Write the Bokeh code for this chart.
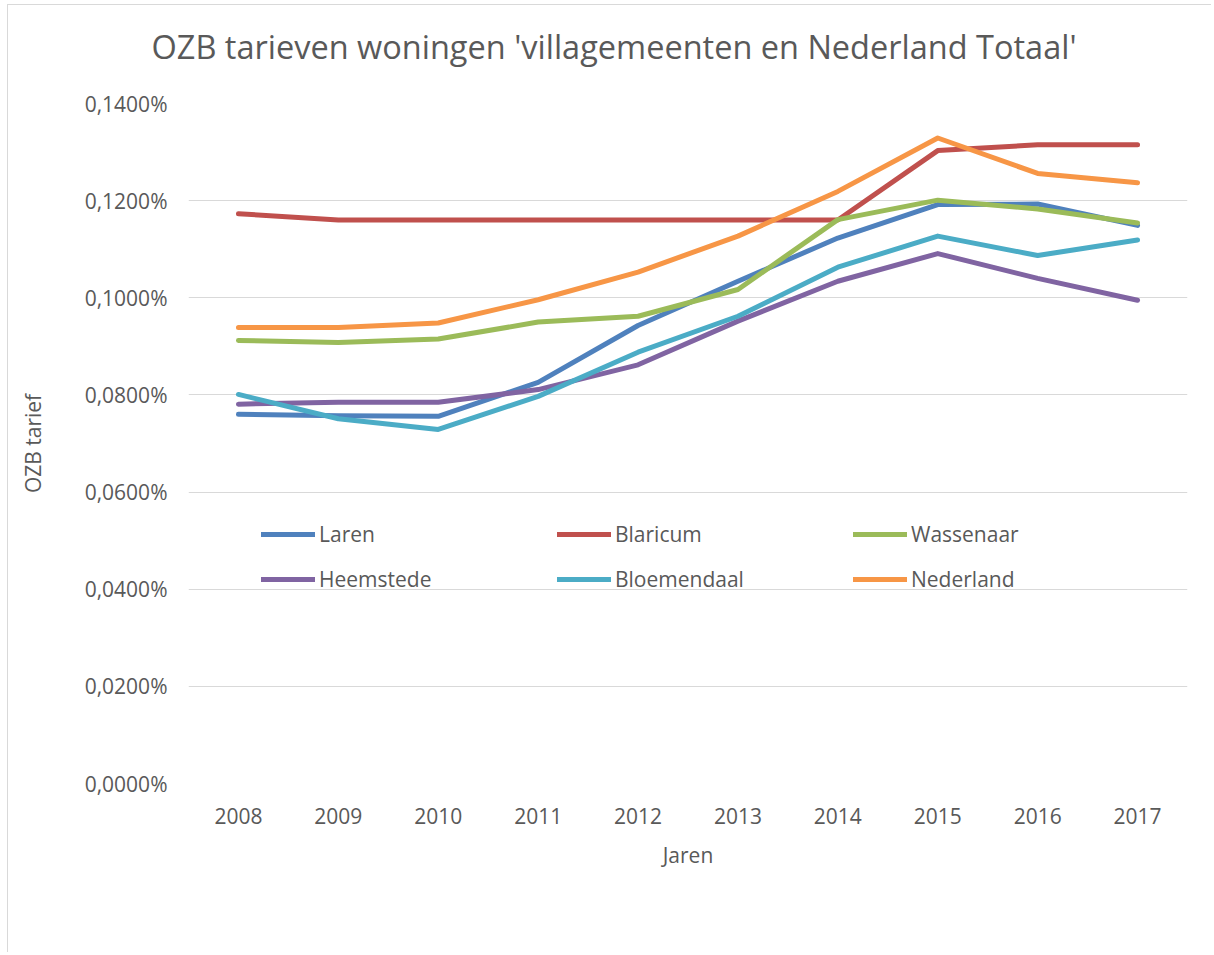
from bokeh.plotting import figure
from bokeh.models import Range1d, FactorRange, CustomJSTickFormatter, Legend, FixedTicker, Title
from bokeh.embed import file_html
from bokeh.resources import INLINE

years = ["2008", "2009", "2010", "2011", "2012", "2013", "2014", "2015", "2016", "2017"]
laren = [0.0760, 0.0757, 0.0756, 0.0826, 0.0943, 0.1034, 0.1123, 0.1192, 0.1193, 0.1149]
blaricum = [0.1173, 0.1160, 0.1160, 0.1160, 0.1160, 0.1160, 0.1160, 0.1303, 0.1315, 0.1315]
wassenaar = [0.0912, 0.0908, 0.0915, 0.0950, 0.0962, 0.1017, 0.1161, 0.1201, 0.1183, 0.1154]
heemstede = [0.0781, 0.0785, 0.0785, 0.0811, 0.0862, 0.0952, 0.1034, 0.1091, 0.1040, 0.0995]
bloemendaal = [0.0801, 0.0751, 0.0729, 0.0797, 0.0888, 0.0962, 0.1063, 0.1127, 0.1087, 0.1119]
nederland = [0.0939, 0.0939, 0.0948, 0.0996, 0.1053, 0.1127, 0.1219, 0.1329, 0.1256, 0.1237]
y_ticks = [0.0, 0.02, 0.04, 0.06, 0.08, 0.10, 0.12, 0.14]
title_text = "OZB tarieven woningen 'villagemeenten en Nederland Totaal'"

series = [
    ("Laren", laren, "#4F81BD"),
    ("Blaricum", blaricum, "#C0504D"),
    ("Wassenaar", wassenaar, "#9BBB59"),
    ("Heemstede", heemstede, "#8064A2"),
    ("Bloemendaal", bloemendaal, "#4BACC6"),
    ("Nederland", nederland, "#F79646"),
]

FONT = "Open Sans"
TXT = "#595959"
FS = "21px"

p = figure(width=1204, height=948, x_range=FactorRange(*years, range_padding=0),
           y_range=Range1d(0, 0.14), output_backend="svg", toolbar_location=None,
           min_border_left=180, min_border_right=25, min_border_top=98, min_border_bottom=170,
           title=title_text)
p.styles = {"border-left": "1px solid #d9d9d9", "border-top": "1px solid #d9d9d9",
            "margin-left": "7px", "margin-top": "4px"}
p.outline_line_color = None
p.background_fill_color = "white"
p.border_fill_color = "white"

p.title.align = "left"
p.title.text_font = FONT
p.title.text_font_size = "32.5px"
p.title.text_font_style = "normal"
p.title.text_color = TXT
p.title.offset = -37
p.title.standoff = 10

# empty spacer between title and plot area
spacer = Title(text=" ", text_font_size="1px", standoff=27, text_color="white")
p.add_layout(spacer, "above")

p.xgrid.grid_line_color = None
p.ygrid.grid_line_color = "#d9d9d9"
p.ygrid.grid_line_width = 1
p.yaxis.ticker = FixedTicker(ticks=y_ticks)
p.yaxis.formatter = CustomJSTickFormatter(code="return tick.toFixed(4).replace('.', ',') + '%';")

for ax in (p.xaxis[0], p.yaxis[0]):
    ax.axis_line_color = None
    ax.major_tick_line_color = None
    ax.minor_tick_line_color = None
    ax.major_label_text_font = FONT
    ax.major_label_text_font_size = FS
    ax.major_label_text_color = TXT
    ax.axis_label_text_font = FONT
    ax.axis_label_text_font_size = FS
    ax.axis_label_text_font_style = "normal"
    ax.axis_label_text_color = TXT

p.yaxis.axis_label = "OZB tarief"
p.xaxis.axis_label = "Jaren"
p.yaxis.major_label_standoff = 15
p.yaxis.axis_label_standoff = 35
p.xaxis.major_label_standoff = 18
p.xaxis.axis_label_standoff = 14

items = []
for name, vals, col in series:
    r = p.line(years, vals, line_color=col, line_width=5, line_cap="round", line_join="round")
    items.append((name, [r]))

legend = Legend(items=items, location=(73, 190), orientation="horizontal", nrows=2,
                glyph_width=54, glyph_height=26, label_height=26, label_width=221,
                label_standoff=4, spacing=17, padding=0, margin=0,
                border_line_color=None, background_fill_alpha=0,
                label_text_font=FONT, label_text_font_size=FS, label_text_color=TXT)
p.add_layout(legend, "center")

open("out.html", "w").write(file_html(p, INLINE))
